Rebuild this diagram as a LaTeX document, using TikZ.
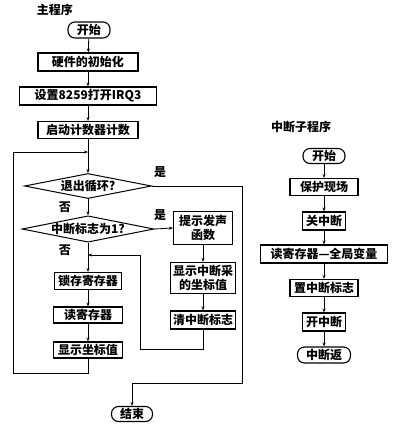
\documentclass[tikz,border=0pt]{standalone}
\usepackage{fontspec}
\setmainfont{Noto Sans CJK SC}
\usetikzlibrary{shapes.geometric,arrows.meta}
\begin{document}
\begin{tikzpicture}[x=1pt,y=-1pt,
  font=\fontsize{12}{13.5}\selectfont\bfseries,
  box/.style={draw,line width=1.1pt,inner sep=0pt,minimum height=17pt,align=center},
  term/.style={draw,line width=1.1pt,inner sep=0pt,minimum height=16pt,rounded corners=7pt},
  dec/.style={draw,diamond,line width=1pt,inner sep=0pt,shape aspect=5,minimum width=127pt,minimum height=25pt},
  conn/.style={line width=0.8pt},
  arr/.style={line width=0.8pt,-{Stealth[length=4pt,width=3pt]}},
  lbl/.style={inner sep=0pt}]
\useasboundingbox (0,0) rectangle (400,432);
% main program
\node[lbl] (t1) at (55,10) {主程序};
\node[term,minimum width=42pt] (s) at (89,30) {开始};
\node[box,minimum width=100pt,minimum height=18pt] (init) at (88,62) {硬件的初始化};
\node[box,minimum width=137pt,minimum height=18pt] (set) at (88,96) {设置8259打开IRQ3};
\node[box,minimum width=100pt] (cnt) at (88,130) {启动计数器计数};
\node[dec] (d1) at (88,186) {退出循环?};
\node[dec,minimum height=26pt] (d2) at (88,229) {中断标志为1?};
\node[box,minimum width=67pt] (latch) at (88,281) {锁存寄存器};
\node[box,minimum width=69pt,minimum height=16pt] (rd) at (88,315) {读寄存器};
\node[box,minimum width=69pt,minimum height=16pt] (disp) at (88,350) {显示坐标值};
\node[box,minimum width=59pt,minimum height=33pt] (pr) at (203,228) {提示发声\\函数};
\node[box,minimum width=65pt,minimum height=31pt] (di) at (203,278) {显示中断采\\的坐标值};
\node[box,minimum width=65pt,minimum height=18pt] (cl) at (203,320) {清中断标志};
\node[term,minimum width=41pt,minimum height=15pt] (e) at (132,414) {结束};
\node[lbl] (y1) at (160,172) {是};
\node[lbl] (n1) at (65,207) {否};
\node[lbl] (y2) at (160,215) {是};
\node[lbl] (n2) at (65,250) {否};
\coordinate (j1) at (88,152);
\coordinate (j2) at (88,255);
\coordinate (a1) at (13,373);
\coordinate (a2) at (13,152);
\coordinate (b1) at (242,186);
\coordinate (b2) at (242,383);
\coordinate (b3) at (132,383);
\coordinate (c1) at (203,349);
\coordinate (c2) at (140,349);
\coordinate (c3) at (140,255);
\draw[arr] (s) -- (init);
\draw[arr] (init) -- (set);
\draw[arr] (set) -- (cnt);
\draw[arr] (cnt) -- (d1);
\draw[arr] (d1) -- (d2);
\draw[arr] (d2) -- (latch);
\draw[arr] (latch) -- (rd);
\draw[arr] (rd) -- (disp);
\draw[arr] (disp.south) |- (a1) -- (a2) -- (j1);
\draw[arr] (d1.east) -- (b1) -- (b2) -- (b3) -- (e.north);
\draw[arr] (d2.east) -- (pr.west);
\draw[arr] (pr) -- (di);
\draw[arr] (di) -- (cl);
\draw[arr] (cl.south) -- (c1) -- (c2) -- (c3) -- (j2);
% interrupt subroutine
\node[lbl] (t2) at (301,127) {中断子程序};
\node[term,minimum width=42pt,minimum height=15pt] (is) at (324,156) {开始};
\node[box,minimum width=68pt] (pt) at (324,187) {保护现场};
\node[box,minimum width=43pt,minimum height=18pt] (cs) at (324,221) {关中断};
\node[box,minimum width=127pt,minimum height=18pt] (rv) at (324,254) {读寄存器—全局变量};
\node[box,minimum width=68pt] (sf) at (324,288) {置中断标志};
\node[box,minimum width=43pt,minimum height=18pt] (op) at (324,322) {开中断};
\node[term,minimum width=53pt] (ir) at (324,355) {中断返};
\draw[arr] (is) -- (pt);
\draw[arr] (pt) -- (cs);
\draw[arr] (cs) -- (rv);
\draw[arr] (rv) -- (sf);
\draw[arr] (sf) -- (op);
\draw[arr] (op) -- (ir);
\end{tikzpicture}
\end{document}
